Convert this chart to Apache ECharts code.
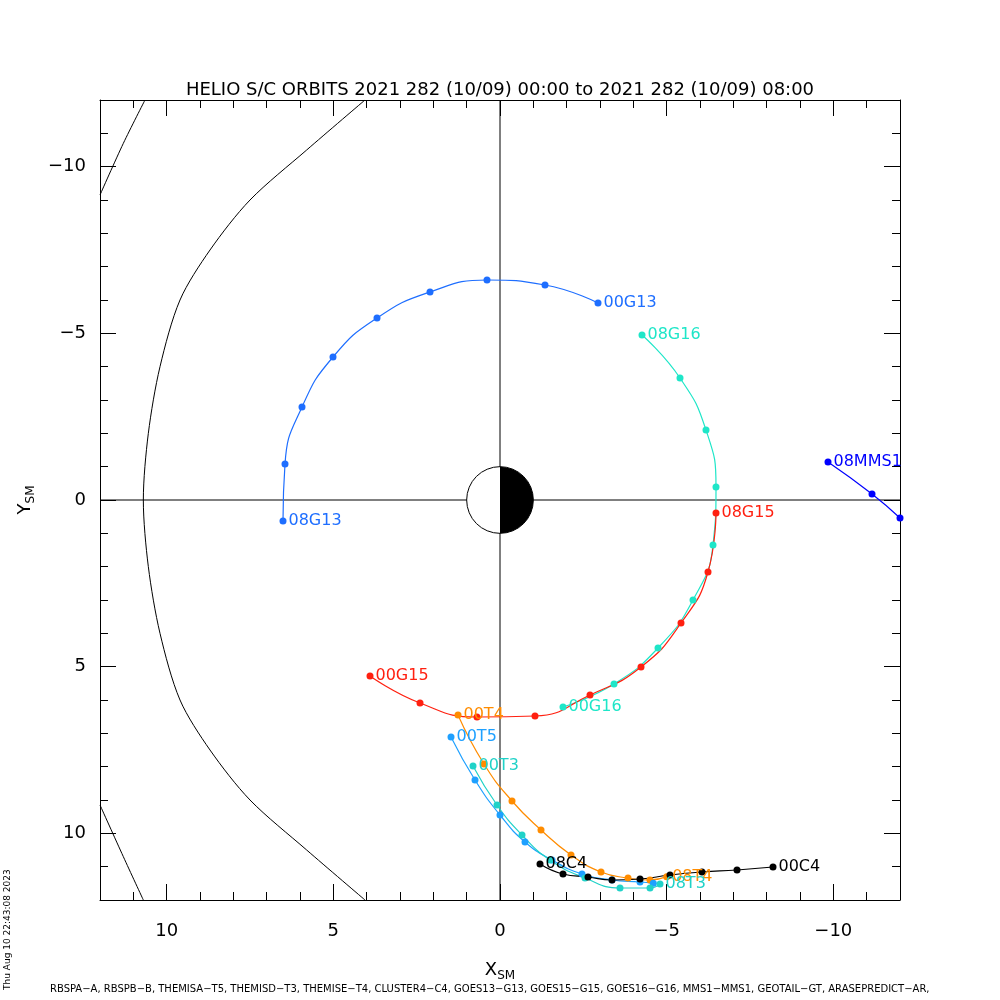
<!DOCTYPE html>
<html>
<head>
<meta charset="utf-8">
<title>HELIO S/C ORBITS</title>
<script src="https://cdn.jsdelivr.net/npm/echarts@6/dist/echarts.min.js"></script>
<style>
  html, body { margin: 0; padding: 0; background: #fff; }
  #chart { width: 1000px; height: 1000px; }
</style>
</head>
<body>
<div id="chart"></div>
<script>
// hourly positions [X_SM, Y_SM], 00h first
var g13 = [[-2.94, -5.91], [-1.35, -6.45], [0.39, -6.6], [2.1, -6.24], [3.69, -5.46], [5.01, -4.29], [5.94, -2.79], [6.45, -1.08], [6.51, 0.63]];
var g16 = [[-1.89, 6.21], [-3.42, 5.52], [-4.74, 4.44], [-5.79, 3.0], [-6.39, 1.35], [-6.48, -0.39], [-6.18, -2.1], [-5.4, -3.66], [-4.26, -4.95]];
var g15 = [[3.9, 5.28], [2.4, 6.09], [0.69, 6.51], [-1.05, 6.48], [-2.7, 5.85], [-4.23, 5.01], [-5.43, 3.69], [-6.24, 2.16], [-6.48, 0.39]];
var t4 = [[1.26, 6.45], [0.48, 7.92], [-0.36, 9.03], [-1.23, 9.9], [-2.13, 10.65], [-3.03, 11.16], [-3.84, 11.34], [-4.5, 11.4], [-5.0, 11.3]];
var t5 = [[1.47, 7.11], [0.75, 8.4], [0.0, 9.45], [-0.75, 10.26], [-1.56, 10.8], [-2.46, 11.22], [-3.36, 11.4], [-4.2, 11.46], [-4.6, 11.5]];
var t3 = [[0.81, 7.98], [0.09, 9.15], [-0.66, 10.05], [-1.5, 10.8], [-2.55, 11.34], [-3.6, 11.64], [-4.5, 11.64], [-4.8, 11.52]];
var c4 = [[-8.19, 11.01], [-7.11, 11.1], [-6.06, 11.16], [-5.1, 11.25], [-4.2, 11.37], [-3.36, 11.4], [-2.64, 11.31], [-1.89, 11.22], [-1.2, 10.92]];
var mms1 = [[-9.84, -1.14], [-11.16, -0.18], [-12.0, 0.54]];
var magnetopause = [[4.05, -12], [5.8, -10.5], [7.5, -9], [8.7, -7.5], [9.6, -6], [10.2, -4], [10.55, -2], [10.7, 0], [10.55, 2], [10.2, 4], [9.6, 6], [8.7, 7.5], [7.5, 9], [5.8, 10.5], [4.05, 12]];
var bowTop = [[12, -9.15], [11.3, -10.7], [10.65, -12]];
var bowBot = [[12, 9.15], [11.3, 10.7], [10.7, 12]];
var majorTicks = [-10, -5, 0, 5, 10];

var orbits = [
  { name: 'G13', data: g13, color: '#1e6eff', first: '00G13', last: '08G13' },
  { name: 'G16', data: g16, color: '#1ee6c8', first: '00G16', last: '08G16' },
  { name: 'G15', data: g15, color: '#ff2010', first: '00G15', last: '08G15' },
  { name: 'T4', data: t4, color: '#ff8c00', first: '00T4', last: '08T4' },
  { name: 'T5', data: t5, color: '#1ea0ff', first: '00T5', last: '' },
  { name: 'T3', data: t3, color: '#20d2c8', first: '00T3', last: '08T3' },
  { name: 'C4', data: c4, color: '#000000', first: '00C4', last: '08C4' },
  { name: 'MMS1', data: mms1, color: '#0000ff', first: '08MMS1', last: '' }
];

var series = [];
function plain(d) {
  return { type: 'line', data: d, showSymbol: false, smooth: 0.3, silent: true,
    lineStyle: { color: '#000', width: 1 }, z: 1 };
}
series.push(plain(magnetopause), plain(bowTop), plain(bowBot));
series.push({ type: 'line', data: [[-12, 0], [12, 0]], showSymbol: false, silent: true, lineStyle: { color: '#000', width: 1 } });
series.push({ type: 'line', data: [[0, -12], [0, 12]], showSymbol: false, silent: true, lineStyle: { color: '#000', width: 1 } });

orbits.forEach(function (o) {
  series.push({
    type: 'line', name: o.name, data: o.data, smooth: 0.5, symbol: 'circle', symbolSize: 7,
    lineStyle: { color: o.color, width: 1.2 }, itemStyle: { color: o.color },
    z: 3,
    label: {
      show: true, fontFamily: 'DejaVu Sans', fontSize: 16, color: o.color,
      position: 'right', distance: 2,
      formatter: function (p) {
        if (p.dataIndex === 0) return o.first;
        if (p.dataIndex === o.data.length - 1) return o.last;
        return '';
      }
    }
  });
});

// Earth: day side white, night side black
series.push({
  type: 'custom', silent: true, z: 5, data: [[0, 0]],
  renderItem: function (params, api) {
    var c = api.coord([0, 0]);
    var r = api.size([1, 1])[0];
    return { type: 'group', children: [
      { type: 'circle', shape: { cx: c[0], cy: c[1], r: r }, style: { fill: '#fff', stroke: '#000', lineWidth: 1 } },
      { type: 'sector', shape: { cx: c[0], cy: c[1], r: r, startAngle: -Math.PI / 2, endAngle: Math.PI / 2 }, style: { fill: '#000' } }
    ] };
  }
});

var lbl = { color: '#000', fontFamily: 'DejaVu Sans', fontSize: 18, margin: 22,
  customValues: majorTicks,
  formatter: function (v) { return String(v).replace('-', '\u2212'); } };

// major axis (labels, long ticks) and minor axis (short ticks every 1)
function majorAx(pos, label, extra) {
  return Object.assign({
    type: 'value', min: -12, max: 12, inverse: true, position: pos,
    splitLine: { show: false },
    axisLine: { onZero: false, lineStyle: { color: '#000', width: 1 } },
    axisTick: { inside: true, length: 16, customValues: majorTicks, lineStyle: { color: '#000' } },
    axisLabel: label ? label : { show: false }
  }, extra || {});
}
function minorAx(pos) {
  return {
    type: 'value', min: -12, max: 12, interval: 1, inverse: true, position: pos,
    splitLine: { show: false },
    axisLine: { show: false, onZero: false },
    axisTick: { inside: true, length: 8, lineStyle: { color: '#000' } },
    axisLabel: { show: false }
  };
}
var sub = { a: { fontSize: 18, fontFamily: 'DejaVu Sans', color: '#000' },
  b: { fontSize: 12, fontFamily: 'DejaVu Sans', color: '#000', padding: [12, 0, 0, 0] } };

var chart = echarts.init(document.getElementById('chart'));
chart.setOption({
  animation: false,
  title: { text: 'HELIO S/C ORBITS 2021 282 (10/09) 00:00 to 2021 282 (10/09) 08:00', left: 'center', top: 76,
    textStyle: { fontFamily: 'DejaVu Sans', fontSize: 18, fontWeight: 'normal', color: '#000' } },
  grid: { left: 100, right: 100, top: 100, bottom: 100 },
  xAxis: [
    majorAx('bottom', lbl, { name: '{a|X}{b|SM}', nameLocation: 'middle', nameGap: 58, nameTextStyle: { rich: sub } }),
    majorAx('top'),
    minorAx('bottom'),
    minorAx('top')
  ],
  yAxis: [
    majorAx('left', Object.assign({}, lbl, { margin: 14 }), { name: '{a|Y}{b|SM}', nameLocation: 'middle', nameGap: 62, nameRotate: 90, nameTextStyle: { rich: sub } }),
    majorAx('right'),
    minorAx('left'),
    minorAx('right')
  ],
  graphic: [
    { type: 'text', left: 50, top: 984, style: { text: 'RBSPA\u2212A, RBSPB\u2212B, THEMISA\u2212T5, THEMISD\u2212T3, THEMISE\u2212T4, CLUSTER4\u2212C4, GOES13\u2212G13, GOES15\u2212G15, GOES16\u2212G16, MMS1\u2212MMS1, GEOTAIL\u2212GT, ARASEPREDICT\u2212AR,', font: '10px "DejaVu Sans"', fill: '#000' } },
    { type: 'text', x: 3, y: 990, rotation: Math.PI / 2, style: { text: 'Thu Aug 10 22:43:08 2023', font: '9px "DejaVu Sans"', fill: '#000' } }
  ],
  series: series
});
</script>
</body>
</html>
